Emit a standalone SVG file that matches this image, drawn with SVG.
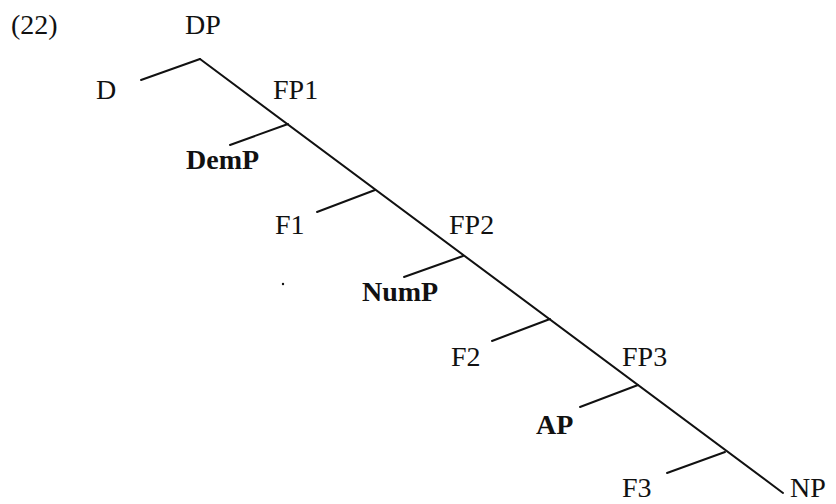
<svg xmlns="http://www.w3.org/2000/svg" width="836" height="504" viewBox="0 0 836 504">
  <style>
    text { font-family: "Liberation Serif", "Times New Roman", serif; font-size: 28px; fill: #111; }
    .b { font-weight: bold; }
    .edge { stroke: #111; stroke-width: 2; fill: none; stroke-linecap: round; }
  </style>
  <rect width="836" height="504" fill="#fff"/>
  <text x="11" y="34">(22)</text>

  <!-- tree edges -->
  <g id="edges">
    <path class="edge" d="M200,59 L783,493"/>
    <path class="edge" d="M200,59 L141,80"/>
    <path class="edge" d="M288,124 L230,145"/>
    <path class="edge" d="M375,190 L317,212"/>
    <path class="edge" d="M463,256 L404,277"/>
    <path class="edge" d="M550,319 L492,341"/>
    <path class="edge" d="M638,385 L580,407"/>
    <path class="edge" d="M725,452 L667,473"/>
  </g>

  <g id="DP"><text x="185" y="34">DP</text></g>
  <g id="D"><text x="96" y="99">D</text></g>
  <g id="FP1"><text x="273" y="99">FP1</text></g>
  <g id="DemP"><text class="b" x="186" y="169">DemP</text></g>
  <g id="F1"><text x="275" y="234">F1</text></g>
  <g id="FP2"><text x="449" y="234">FP2</text></g>
  <g id="NumP"><text class="b" x="362" y="301">NumP</text></g>
  <g id="F2"><text x="451" y="366">F2</text></g>
  <g id="FP3"><text x="622" y="366">FP3</text></g>
  <g id="AP"><text class="b" x="536" y="434">AP</text></g>
  <g id="F3"><text x="622" y="497">F3</text></g>
  <g id="NP"><text x="790" y="497">NP</text></g>

  <circle cx="283" cy="284" r="1.2" fill="#111"/>
</svg>
